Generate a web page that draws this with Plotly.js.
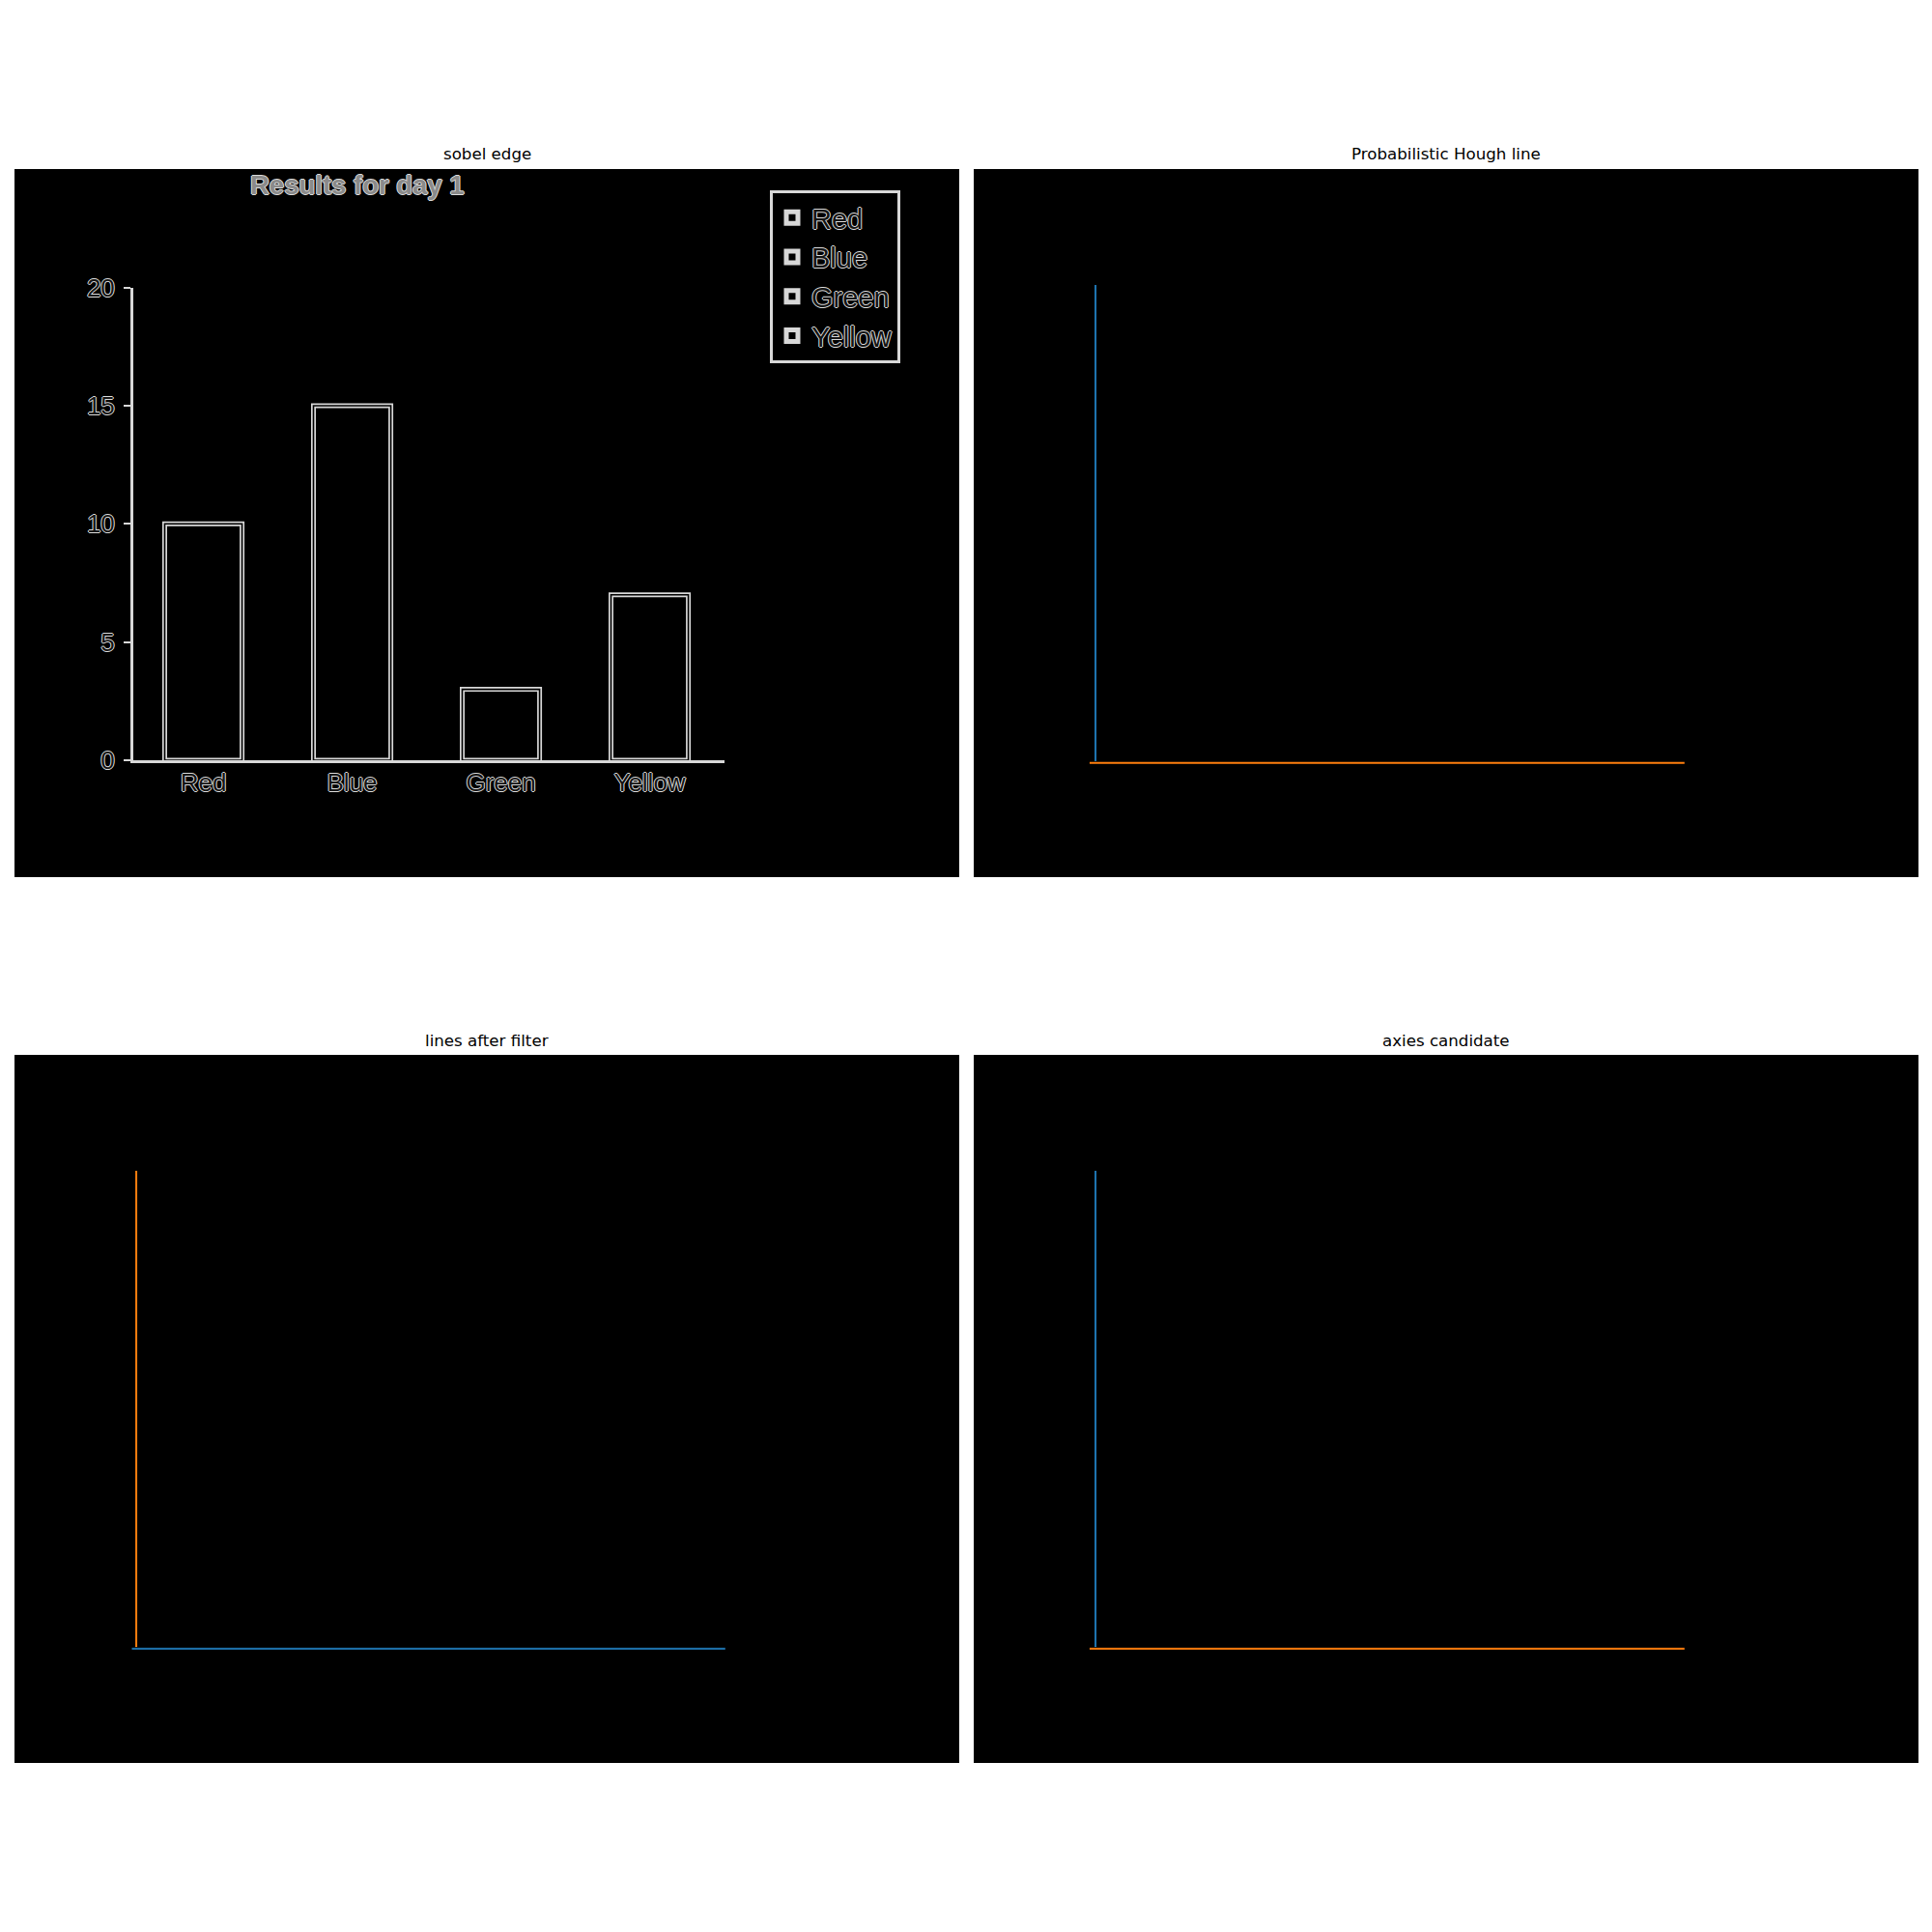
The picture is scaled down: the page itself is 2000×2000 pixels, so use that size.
<!DOCTYPE html>
<html>
<head>
<meta charset="utf-8">
<script src="https://cdn.plot.ly/plotly-3.0.1.min.js"></script>
<style>html,body{margin:0;padding:0;background:#fff;}</style>
</head>
<body>
<div id="chart" style="width:2000px;height:2000px;"></div>
<script>
// ---------- data ----------
const categories = ['Red', 'Blue', 'Green', 'Yellow'];
const values = [10, 15, 3, 7];
const yTickVals = [0, 5, 10, 15, 20];
const chartTitle = 'Results for day 1';
const panelTitles = ['sobel edge', 'Probabilistic Hough line', 'lines after filter', 'axies candidate'];

// Hough segments, image pixel coordinates (image 640 x 480)
const houghVertX = [82, 82];   const houghVertY = [78, 401];
const houghHorzX = [78, 481];  const houghHorzY = [402, 402];
const filterHorzX = [79, 481]; const filterHorzY = [402, 402];
const filterVertX = [82, 82];  const filterVertY = [78, 401];
const candVertX = [82, 82];    const candVertY = [78, 401];
const candHorzX = [78, 481];   const candHorzY = [402, 402];

// ---------- layout helpers ----------
const W = 2000, H = 2000;
const fx = p => p / W;
const fy = p => 1 - p / H;
const IMG_W = 640, IMG_H = 480;
const BLUE = '#1f77b4', ORANGE = '#ff7f0e';

const panelX = [[15, 993], [1008, 1986], [15, 993], [1008, 1986]];
const panelY = [[175, 908], [175, 908], [1092, 1825], [1092, 1825]];

const outline = '1px 0 0 #dcdcdc, -1px 0 0 #dcdcdc, 0 1px 0 #dcdcdc, 0 -1px 0 #dcdcdc';
const edgeFont = {family: 'Liberation Sans, Arial, sans-serif', size: 26, color: '#141414', shadow: outline};
const legendFont = {family: 'Liberation Sans, Arial, sans-serif', size: 29, color: '#141414', shadow: outline};

const layout = {
  width: W, height: H,
  margin: {l: 0, r: 0, t: 0, b: 0},
  paper_bgcolor: '#ffffff',
  plot_bgcolor: '#000000',
  showlegend: true,
  barmode: 'overlay',
  legend: {
    x: fx(797), y: fy(197), xanchor: 'left', yanchor: 'top',
    bgcolor: '#000000', bordercolor: '#d8d8d8', borderwidth: 3,
    font: legendFont, itemwidth: 30, tracegroupgap: 0
  },
  annotations: [],
  shapes: []
};

const hiddenAxis = (domain, range, anchor) => ({
  domain: domain, range: range, anchor: anchor,
  showgrid: false, zeroline: false, showticklabels: false, ticks: '',
  showline: false, fixedrange: true
});

for (let i = 0; i < 4; i++) {
  const n = i === 0 ? '' : String(i + 1);
  layout['xaxis' + n] = hiddenAxis([fx(panelX[i][0]), fx(panelX[i][1])], [-0.5, IMG_W - 0.5], 'y' + n);
  layout['yaxis' + n] = hiddenAxis([fy(panelY[i][1]), fy(panelY[i][0])], [IMG_H - 0.5, -0.5], 'x' + n);
  layout.annotations.push({
    text: panelTitles[i], showarrow: false,
    xref: 'paper', yref: 'paper',
    x: fx((panelX[i][0] + panelX[i][1]) / 2), y: fy(panelY[i][0] - 15),
    xanchor: 'center', yanchor: 'middle',
    font: {family: 'DejaVu Sans, sans-serif', size: 16.67, color: '#000000'}
  });
}

// inner (edge-detected) bar chart axes inside the first panel
layout.xaxis5 = {
  domain: [fx(138), fx(750)], anchor: 'y5',
  type: 'category', categoryorder: 'array', categoryarray: categories,
  range: [-0.471, 3.503],
  showgrid: false, zeroline: false,
  showline: true, linecolor: '#d8d8d8', linewidth: 3,
  ticks: '', ticklabelstandoff: -2,
  tickfont: edgeFont, fixedrange: true
};
layout.yaxis5 = {
  domain: [fy(787), fy(297.6)], anchor: 'x5',
  range: [0, 20], tickvals: yTickVals,
  showgrid: false, zeroline: false,
  showline: true, linecolor: '#d8d8d8', linewidth: 3,
  ticks: 'outside', ticklen: 7, tickwidth: 2, tickcolor: '#d8d8d8',
  ticklabelstandoff: 4,
  tickfont: edgeFont, fixedrange: true
};

layout.annotations.push({
  text: chartTitle, showarrow: false,
  xref: 'paper', yref: 'paper',
  x: fx(369.5), y: fy(191), xanchor: 'center', yanchor: 'middle',
  font: {family: 'Liberation Sans, Arial, sans-serif', size: 27.5, weight: 700, color: '#8a8a8a', shadow: outline}
});

// ---------- traces ----------
const traces = [];

// keep an invisible trace per image panel so each black subplot exists
for (let i = 0; i < 4; i++) {
  const n = i === 0 ? '' : String(i + 1);
  traces.push({type: 'scatter', mode: 'none', x: [], y: [], xaxis: 'x' + n, yaxis: 'y' + n,
               showlegend: false, hoverinfo: 'skip'});
}

// bars (outer edge of the Sobel double edge)
categories.forEach((c, k) => {
  traces.push({
    type: 'bar', name: c, x: [c], y: [values[k]],
    xaxis: 'x5', yaxis: 'y5', width: 0.52,
    marker: {color: '#000000', line: {color: '#d8d8d8', width: 5}},
    hoverinfo: 'skip', showlegend: true
  });
});
// inner dark stroke splitting the edge into two thin lines
traces.push({
  type: 'bar', x: categories, y: values, xaxis: 'x5', yaxis: 'y5', width: 0.52,
  marker: {color: 'rgba(0,0,0,0)', line: {color: '#000000', width: 1.6}},
  hoverinfo: 'skip', showlegend: false
});

const seg = (x, y, color, n) => ({
  type: 'scatter', mode: 'lines', x: x, y: y, xaxis: 'x' + n, yaxis: 'y' + n,
  line: {color: color, width: 2}, showlegend: false, hoverinfo: 'skip'
});
traces.push(seg(houghVertX, houghVertY, BLUE, '2'));
traces.push(seg(houghHorzX, houghHorzY, ORANGE, '2'));
traces.push(seg(filterHorzX, filterHorzY, BLUE, '3'));
traces.push(seg(filterVertX, filterVertY, ORANGE, '3'));
traces.push(seg(candVertX, candVertY, BLUE, '4'));
traces.push(seg(candHorzX, candHorzY, ORANGE, '4'));

Plotly.newPlot('chart', traces, layout, {staticPlot: true, displayModeBar: false});
</script>
</body>
</html>
